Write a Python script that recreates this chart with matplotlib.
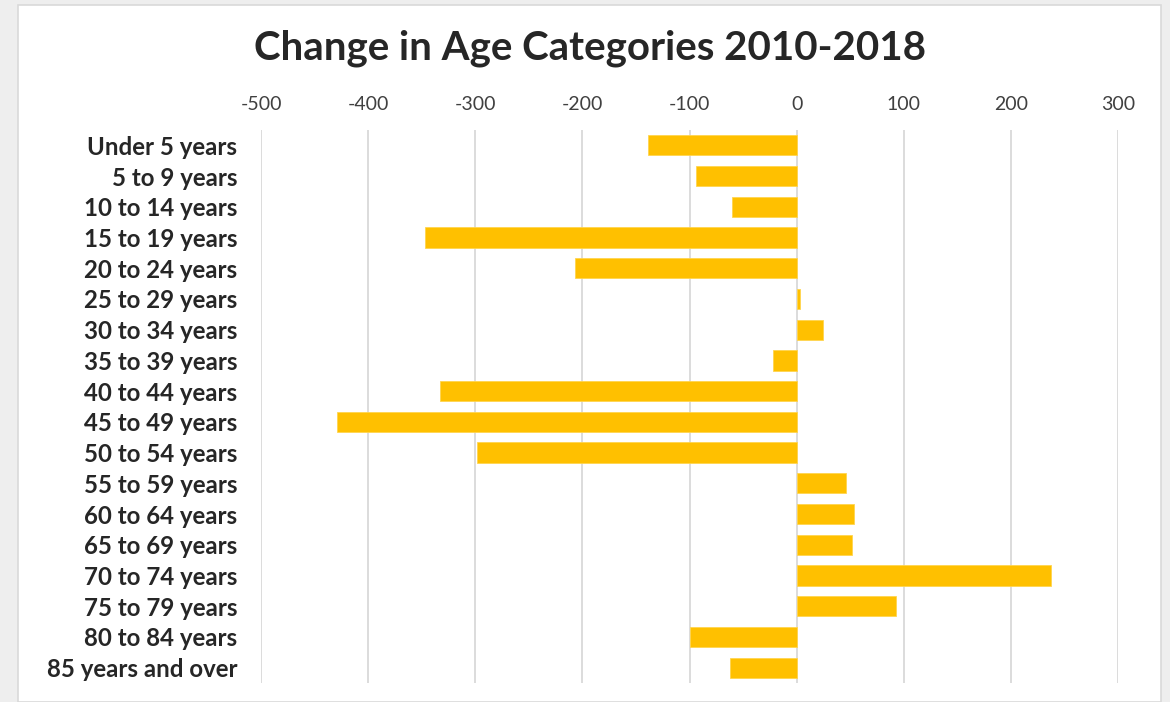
import matplotlib.pyplot as plt
from matplotlib.patches import Rectangle

####################
# Data
####################
categories = ['Under 5 years', '5 to 9 years', '10 to 14 years', '15 to 19 years',
              '20 to 24 years', '25 to 29 years', '30 to 34 years', '35 to 39 years',
              '40 to 44 years', '45 to 49 years', '50 to 54 years', '55 to 59 years',
              '60 to 64 years', '65 to 69 years', '70 to 74 years', '75 to 79 years',
              '80 to 84 years', '85 years and over']
changes = [-139, -94, -60, -347, -207, 3, 25, -22, -333, -429, -298, 46, 54, 52,
           237, 93, -100, -62]
xticks = [-500, -400, -300, -200, -100, 0, 100, 200, 300]

plt.rcParams['font.family'] = ['Lato', 'DejaVu Sans']

####################
# Figure and panel
####################
W, H = 1170, 702
fig = plt.figure(figsize=(W / 100, H / 100), dpi=100)
fig.patch.set_facecolor('#EEEEEE')
fig.patches.append(Rectangle((18 / W, 0), (1161 - 18) / W, 1 - 5 / H,
                             transform=fig.transFigure, facecolor='white',
                             edgecolor='#D9D9D9', linewidth=1.2, zorder=-5))

ax = fig.add_axes([261 / W, 1 - 683 / H, (1118 - 261) / W, (683 - 130) / H])
ax.set_facecolor('none')
ax.set_zorder(2)

ypos = list(range(len(categories)))
ax.barh(ypos, changes, height=0.66, color='#FFC000', edgecolor='#FFD54F',
        linewidth=0.6, zorder=3)

ax.set_xlim(-500, 300)
ax.set_ylim(len(categories) - 0.5, -0.5)
ax.set_xticks(xticks)
ax.set_xticklabels([str(t) for t in xticks])
ax.set_yticks(ypos)
ax.set_yticklabels(categories, fontweight='bold', va='center_baseline')

ax.xaxis.tick_top()
ax.tick_params(axis='x', length=0, pad=12, labelsize=14, labelcolor='#404040')
ax.tick_params(axis='y', length=0, pad=17, labelsize=17.3, labelcolor='#262626')
ax.grid(axis='x', color='#D9D9D9', linewidth=1.3, zorder=0)
ax.set_axisbelow(True)
for s in ax.spines.values():
    s.set_visible(False)

fig.text(590 / W, 1 - 48 / H, 'Change in Age Categories 2010-2018', ha='center',
         va='center', fontsize=29, fontweight='bold', color='#262626', zorder=3)

fig.savefig('out.png', dpi=100, facecolor=fig.get_facecolor())
